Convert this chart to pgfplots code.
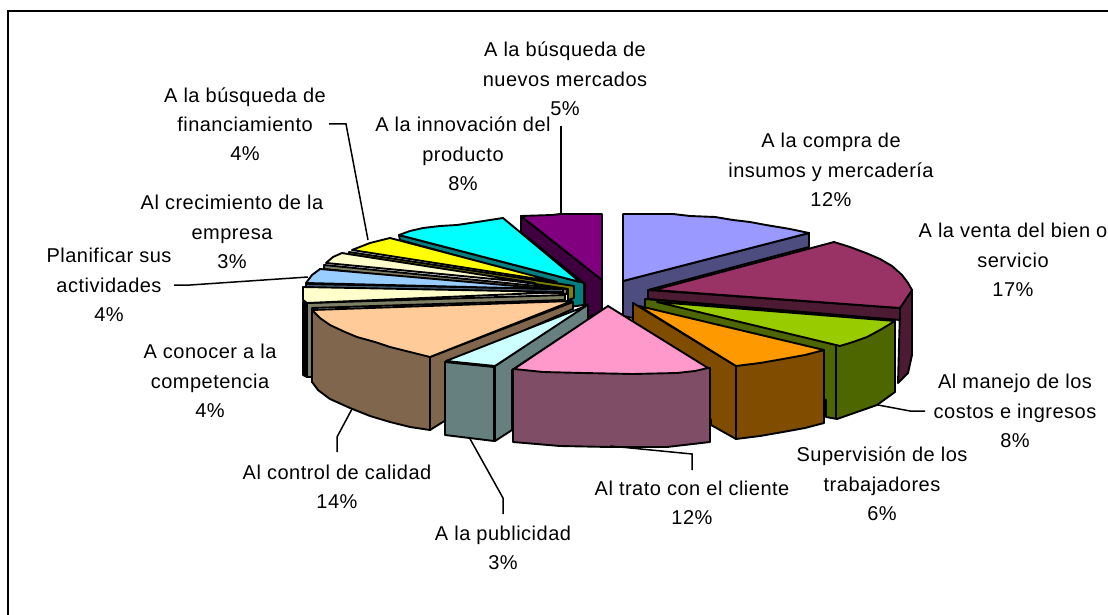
\documentclass[border=0pt]{standalone}
\usepackage{fontspec}
\setmainfont[LetterSpace=2.5]{Liberation Sans}
\usepackage{pgfplots}
\pgfplotsset{compat=1.18}
\definecolor{cPurple}{HTML}{800080}\definecolor{dPurple}{HTML}{400040}
\definecolor{cPeri}{HTML}{9999FF}\definecolor{dPeri}{HTML}{4D4D80}
\definecolor{cBurg}{HTML}{993366}\definecolor{dBurg}{HTML}{4D1A33}
\definecolor{cGreen}{HTML}{99CC00}\definecolor{dGreen}{HTML}{4D6600}
\definecolor{cOrange}{HTML}{FF9900}\definecolor{dOrange}{HTML}{804D00}
\definecolor{cPink}{HTML}{FF99CC}\definecolor{dPink}{HTML}{804D66}
\definecolor{cTeal}{HTML}{CCFFFF}\definecolor{dTeal}{HTML}{668080}
\definecolor{cPeach}{HTML}{FFCC99}\definecolor{dPeach}{HTML}{80664D}
\definecolor{cCream}{HTML}{FFFFCC}\definecolor{dCream}{HTML}{808066}
\definecolor{cBlue}{HTML}{99CCFF}\definecolor{dBlue}{HTML}{4D6680}
\definecolor{cYellow}{HTML}{FFFF00}\definecolor{dYellow}{HTML}{808000}
\definecolor{cCyan}{HTML}{00FFFF}\definecolor{dCyan}{HTML}{008080}
\newcommand\poly[2]{\addplot[draw=black,fill=#1,line width=1.9pt,line join=round,no marks] coordinates {#2} --cycle;}
\newcommand\lead[1]{\addplot[black,line width=1.5pt,no marks] coordinates {#1};}
\newcommand\lab[3]{\node[align=center,inner sep=0pt,text=black] at (axis cs:#1,#2) {#3};}
\begin{document}
\begin{tikzpicture}
\path[use as bounding box] (0,0) rectangle (1108pt,615pt);
\begin{axis}[
  at={(0,0)},anchor=south west,
  scale only axis,width=1108pt,height=615pt,
  xmin=0,xmax=1108,ymin=0,ymax=615,y dir=reverse,
  hide axis,clip=true,
  font=\fontsize{20}{29.3}\selectfont,
]
% frame
\addplot[black,line width=2.4pt,no marks] coordinates {(8,620) (8,11) (1115,11)};
% purple
\poly{dPurple}{(521,216)(602,280)(602,312)(585,318)(585,284)(521,232)}
\poly{cPurple}{(521,216)(552,215)(560,214)(602,214)(602,280)}
% periwinkle
\poly{dPeri}{(623,281)(809,233)(809,247)(648,290)(648,305)(633,318)(623,316)}
\poly{cPeri}{(623,281)(623,214)(673,214)(690,216)(715,217)(733,220)(750,222)(766,225)(790,229)(809,233)}
% burgundy
\poly{dBurg}{(900,308)(912,290)(912,355)(908,373)(898,383)}
\poly{dBurg}{(648,290)(900,308)(900,320)(648,299)}
\poly{cBurg}{(654,290)(834,242)(850,247)(866,253)(880,259)(892,266)(902,275)(908,283)(912,290)(900,308)}
% green
\poly{dGreen}{(645,299)(895,321)(895,392)(877,405)(857,412)(837,419)(826,417)(826,400)(645,310)}
\poly{cGreen}{(657,302)(895,321)(880,330)(867,337)(853,342)(840,346)}
\addplot[black,line width=1.9pt,no marks] coordinates {(836,346)(836,418)};
% orange
\poly{dOrange}{(633,303)(736,366)(736,439)(711,425)(711,420)(633,330)}
\poly{dOrange}{(736,366)(824,350)(824,423)(805,428)(783,432)(760,436)(736,439)}
\poly{cOrange}{(639,306)(824,350)(805,355)(783,359)(760,363)(736,366)}
% cyan
\poly{dCyan}{(399,235)(584,283)(584,305)(569,307)(569,287)(400,240)}
\poly{cCyan}{(399,235)(410,231)(423,228)(440,226)(457,225)(477,222)(490,220)(503,218)(580,282)}
% yellow
\poly{dYellow}{(349,252)(574,286)(574,298)(568,300)(568,289)(350,256)}
\poly{cYellow}{(352,250)(370,243)(390,238)(557,282)}
% cream upper
\poly{dCream}{(324,265)(567,289)(567,294)(324,269)}
\poly{cCream}{(326,263)(333,257)(342,253)(348,254)(535,283)}
% blue
\poly{dBlue}{(306,284)(563,289)(563,293)(306,288)}
\poly{cBlue}{(306,283)(312,275)(320,269)(550,289)}
% cream lower
\poly{black}{(303,302)(307,303)(307,377)(303,375)}
\poly{dCream}{(307,303)(565,295)(565,300)(312,308)(312,377)(307,377)}
\poly{cCream}{(303,287)(563,292)(307,303)(303,300)}
% peach
\poly{dPeach}{(430,357)(573,302)(573,309)(446,365)(446,420)(430,430)}
\poly{dPeach}{(312,310)(430,357)(430,430)(410,427)(390,422)(370,416)(350,408)(330,399)(318,390)(312,382)}
\poly{cPeach}{(312,310)(572,301)(430,357)(410,352)(390,347)(375,342)(357,337)(345,332)(330,325)(320,318)}
% light teal
\poly{dTeal}{(495,366)(588,304)(588,320)(512,370)(512,430)(495,441)}
\poly{dTeal}{(445,362)(494,367)(494,441)(445,435)}
\poly{cTeal}{(446,361)(495,366)(586,306)}
% pink
\poly{dPink}{(513,369)(710,368)(710,442)(667,447)(610,447)(560,446)(513,442)}
\poly{cPink}{(608,306)(708,368)(695,371)(677,373)(633,374)(583,373)(543,372)(514,369)}
% leader lines
\lead{(561,126)(561,214)}
\lead{(329,124)(346,124)(368,240)}
\lead{(174,285)(190,285)(308,277)}
\lead{(337,452)(337,437)(352,409)}
\lead{(503,514)(503,498)(469,437)}
\lead{(692,470)(692,454)(610,446)}
\lead{(925,411)(910,411)(878,405)}
% labels
\lab{565}{79}{A la búsqueda de\\nuevos mercados\\5\%}
\lab{831}{170}{A la compra de\\insumos y mercadería\\12\%}
\lab{1013}{260}{A la venta del bien o\\servicio\\17\%}
\lab{1015}{411}{Al manejo de los\\costos e ingresos\\8\%}
\lab{882}{484}{Supervisión de los\\trabajadores\\6\%}
\lab{692}{503}{Al trato con el cliente\\12\%}
\lab{503}{548}{A la publicidad\\3\%}
\lab{337}{487}{Al control de calidad\\14\%}
\lab{210}{381}{A conocer a la\\competencia\\4\%}
\lab{109}{285}{Planificar sus\\actividades\\4\%}
\lab{232}{232}{Al crecimiento de la\\empresa\\3\%}
\lab{245}{124}{A la búsqueda de\\financiamiento\\4\%}
\lab{463}{154}{A la innovación del\\producto\\8\%}
\end{axis}
\end{tikzpicture}
\end{document}
